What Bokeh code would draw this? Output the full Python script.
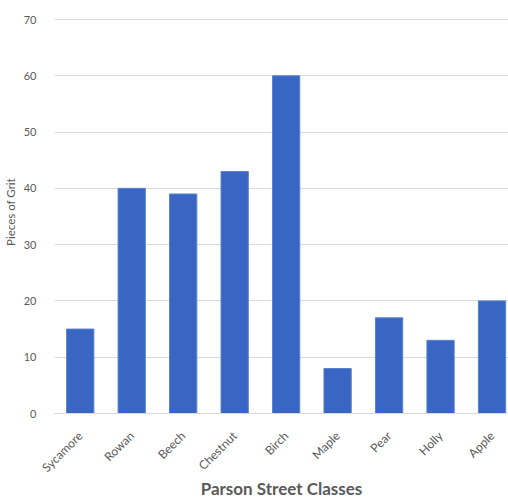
import numpy as np
from bokeh.plotting import figure
from bokeh.models import Range1d, FixedTicker, ColumnDataSource
from bokeh.embed import file_html
from bokeh.resources import INLINE

classes = ["Sycamore", "Rowan", "Beech", "Chestnut", "Birch", "Maple", "Pear", "Holly", "Apple"]
grit = [15, 40, 39, 43, 60, 8, 17, 13, 20]
y_ticks = [0, 10, 20, 30, 40, 50, 60, 70]
x_title = "Parson Street Classes"
y_title = "Pieces of Grit"

idx = list(range(len(classes)))
src = ColumnDataSource(dict(x=idx, top=grit, name=classes))

FONT = "Lato"
p = figure(width=508, height=502, output_backend="svg", toolbar_location=None,
           x_range=Range1d(-0.5, 8.32), y_range=Range1d(0, 71.6),
           min_border_left=54, min_border_right=0, min_border_top=10, min_border_bottom=89)
p.outline_line_color = None
p.background_fill_color = "white"
p.border_fill_color = "white"

p.vbar(x="x", top="top", width=0.53, source=src, fill_color="#3966c2",
       line_color="#5a82cf", line_width=1)

grey = "#595959"
p.xaxis.ticker = FixedTicker(ticks=idx)
p.xaxis.major_label_overrides = {i: c for i, c in enumerate(classes)}
p.xaxis.major_label_orientation = np.pi / 4
p.xaxis.major_tick_line_color = None
p.xaxis.minor_tick_line_color = None
p.xaxis.axis_line_color = "#d9d9d9"
p.xaxis.major_label_text_font = FONT
p.xaxis.major_label_text_font_size = "12px"
p.xaxis.major_label_text_color = grey
p.xaxis.major_label_standoff = 14
p.xaxis.axis_label = x_title
p.xaxis.axis_label_text_font = FONT
p.xaxis.axis_label_text_font_style = "bold"
p.xaxis.axis_label_text_font_size = "17px"
p.xaxis.axis_label_text_color = grey
p.xaxis.axis_label_standoff = -5

p.yaxis.ticker = FixedTicker(ticks=y_ticks)
p.yaxis.major_tick_line_color = None
p.yaxis.minor_tick_line_color = None
p.yaxis.axis_line_color = None
p.yaxis.major_label_text_font = FONT
p.yaxis.major_label_text_font_size = "11px"
p.yaxis.major_label_text_color = grey
p.yaxis.major_label_standoff = 12
p.yaxis.axis_label = y_title
p.yaxis.axis_label_text_font = FONT
p.yaxis.axis_label_text_font_style = "normal"
p.yaxis.axis_label_text_font_size = "11.5px"
p.yaxis.axis_label_text_color = grey
p.yaxis.axis_label_standoff = 4

p.xgrid.grid_line_color = None
p.ygrid.grid_line_color = "#d9d9d9"
p.ygrid.ticker = FixedTicker(ticks=y_ticks)

open("out.html", "w").write(file_html(p, INLINE))
